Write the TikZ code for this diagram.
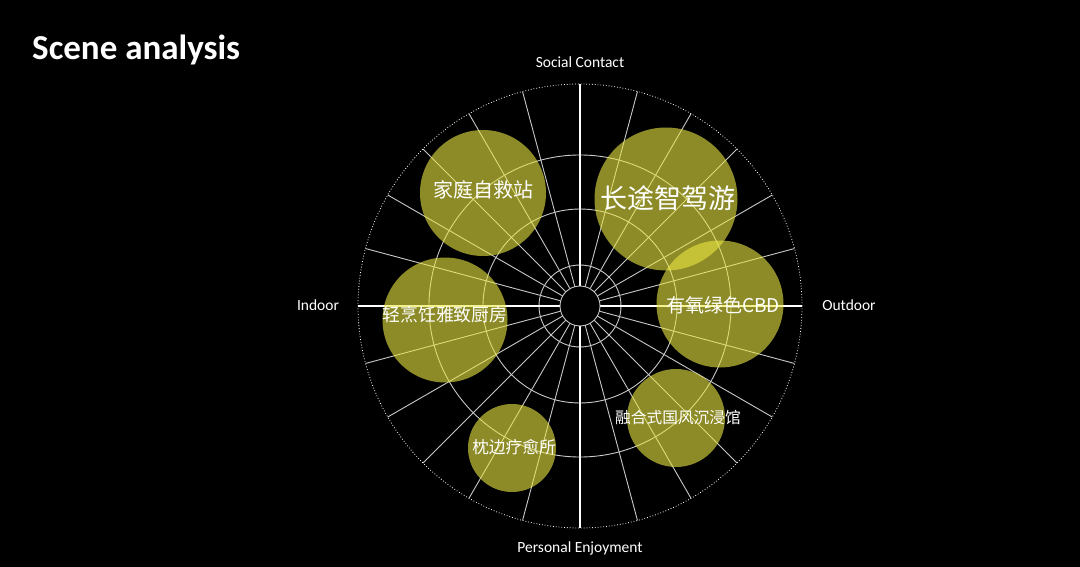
\documentclass[tikz,border=0pt]{standalone}
\usepackage{fontspec}
\setmainfont{Carlito}
\newfontfamily\cjk{Noto Sans CJK SC}
\definecolor{bubbleyellow}{RGB}{235,232,68}
\definecolor{gridgray}{RGB}{200,200,200}

\begin{document}
\begin{tikzpicture}[
  x=1pt, y=-1pt,
  spoke/.style={draw=gridgray, line width=0.9pt},
  ring/.style={draw=gridgray, line width=0.9pt},
  axisline/.style={draw=white, line width=1.6pt},
  rim/.style={draw=white, line width=0.8pt, dotted},
  bubble/.style={circle, fill=bubbleyellow, fill opacity=0.6, inner sep=0pt},
  btext/.style={text=white, inner sep=0pt},
  alabel/.style={text=white, font=\fontsize{15.5}{18}\selectfont}
]
  % fondo negro y marco de la imagen
  \useasboundingbox (0,0) rectangle (1080,567);
  \fill[black] (0,0) rectangle (1080,567);

  \node[text=white, anchor=base west, inner sep=0pt,
        font=\bfseries\fontsize{35}{40}\selectfont] (title) at (32,60) {Scene analysis};

  % --- REJILLA POLAR ---
  \coordinate (c) at (580,306);
  \foreach \a in {15,30,...,345}
    \draw[spoke, shift={(c)}] (\a:20pt) -- (\a:222pt);
  \draw[ring] (c) circle[radius=41pt];
  \draw[ring] (c) circle[radius=97pt];
  \draw[ring] (c) circle[radius=151pt];
  \draw[rim]  (c) circle[radius=222pt];
  \foreach \a in {0,90,180,270}
    \draw[axisline, shift={(c)}] (\a:20pt) -- (\a:222pt);
  \node[circle, draw=gridgray, fill=black, line width=0.9pt,
        minimum size=40pt, inner sep=0pt] (hub) at (c) {};

  % --- EJES ---
  \node[alabel] (social)   at (580,62)  {Social Contact};
  \node[alabel] (personal) at (580,548) {Personal Enjoyment};
  \node[alabel] (indoor)   at (318,305) {Indoor};
  \node[alabel] (outdoor)  at (849,305) {Outdoor};

  % --- ESCENAS ---
  \node[bubble, minimum size=126pt] (home)    at (483,193) {};
  \node[bubble, minimum size=143pt] (trip)    at (666,199) {};
  \node[bubble, minimum size=127pt] (cbd)     at (720,304) {};
  \node[bubble, minimum size=125pt] (kitchen) at (445,320) {};
  \node[bubble, minimum size=88pt]  (pillow)  at (512,448) {};
  \node[bubble, minimum size=98pt]  (tea)     at (676,418) {};

  \node[btext, font=\cjk\fontsize{20}{24}\selectfont]   (hometext)    at (483,190) {家庭自救站};
  \node[btext, font=\cjk\fontsize{27}{32}\selectfont]   (triptext)    at (668,198) {长途智驾游};
  \node[btext, font=\cjk\fontsize{19}{23}\selectfont]   (cbdtext)     at (723,305) {有氧绿色CBD};
  \node[btext, font=\cjk\fontsize{17.8}{21}\selectfont] (kitchentext) at (445,315) {轻烹饪雅致厨房};
  \node[btext, font=\cjk\fontsize{16.7}{20}\selectfont] (pillowtext)  at (514,447) {枕边疗愈所};
  \node[btext, font=\cjk\fontsize{15.7}{19}\selectfont] (teatext)     at (678,418) {融合式国风沉浸馆};
\end{tikzpicture}
\end{document}
